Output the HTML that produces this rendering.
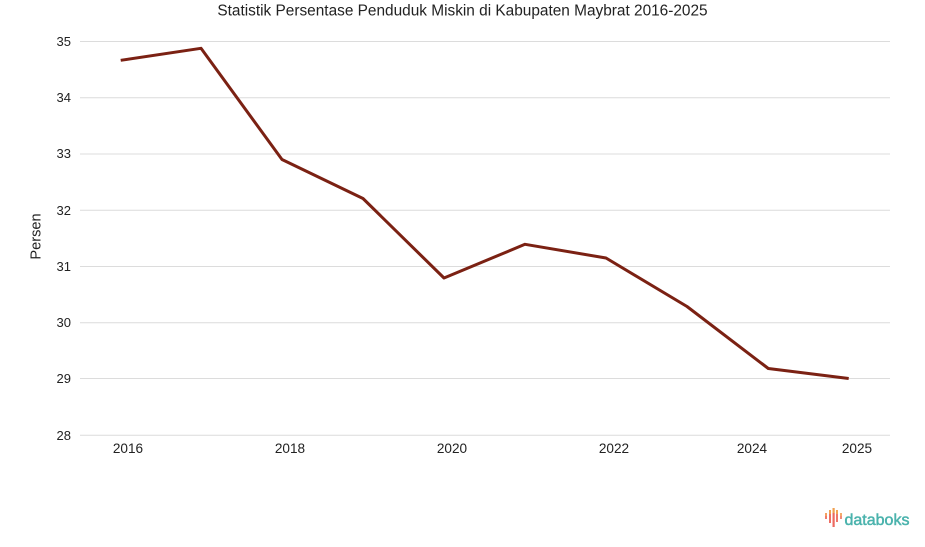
<!DOCTYPE html>
<html><head><meta charset="utf-8"><style>
html,body{margin:0;padding:0;background:#fff;}
svg{display:block;}
text{font-family:"Liberation Sans",Arial,sans-serif;fill:#222;}
</style></head><body>
<svg width="925" height="547" viewBox="0 0 925 547" xmlns="http://www.w3.org/2000/svg">
<text x="462.5" y="15.5" font-size="15.4" text-anchor="middle" fill="#111">Statistik Persentase Penduduk Miskin di Kabupaten Maybrat 2016-2025</text>
<g stroke="#dcdcdc" stroke-width="1">
<line x1="80" x2="890" y1="41.5" y2="41.5"/>
<line x1="80" x2="890" y1="97.8" y2="97.8"/>
<line x1="80" x2="890" y1="154" y2="154"/>
<line x1="80" x2="890" y1="210.3" y2="210.3"/>
<line x1="80" x2="890" y1="266.5" y2="266.5"/>
<line x1="80" x2="890" y1="322.8" y2="322.8"/>
<line x1="80" x2="890" y1="378.5" y2="378.5"/>
<line x1="80" x2="890" y1="435.3" y2="435.3"/>
</g>
<g font-size="13" text-anchor="end">
<text x="71" y="46">35</text>
<text x="71" y="102">34</text>
<text x="71" y="158">33</text>
<text x="71" y="215">32</text>
<text x="71" y="271">31</text>
<text x="71" y="327">30</text>
<text x="71" y="383">29</text>
<text x="71" y="440">28</text>
</g>
<g font-size="13.6" text-anchor="middle">
<text x="128" y="453">2016</text>
<text x="290" y="453">2018</text>
<text x="452" y="453">2020</text>
<text x="614" y="453">2022</text>
<text x="752" y="453">2024</text>
<text x="857" y="453">2025</text>
</g>
<text transform="translate(40.5,236.5) rotate(-90)" font-size="14.6" text-anchor="middle">Persen</text>
<polyline fill="none" stroke="#7b2113" stroke-width="3" stroke-linejoin="round" points="120.7,60.3 201,48.3 282,159.5 363,198.5 444,278 525,244.3 606,258 687,306.5 768.3,368.5 848.7,378.5"/>
<g>
<rect x="825" y="513" width="2" height="3" fill="#f5a060"/>
<rect x="825" y="516" width="2" height="3" fill="#ef7a6a"/>
<rect x="829" y="510" width="2" height="4" fill="#f0a050"/>
<rect x="829" y="514" width="2" height="9" fill="#ee6e64"/>
<rect x="832.5" y="508" width="2.2" height="5" fill="#f0a050"/>
<rect x="832.5" y="513" width="2.2" height="14" fill="#ec6a60"/>
<rect x="836" y="510" width="2" height="4" fill="#f3a355"/>
<rect x="836" y="514" width="2" height="8" fill="#ee766a"/>
<rect x="840" y="513" width="2" height="3" fill="#f5aa6a"/>
<rect x="840" y="516" width="2" height="3" fill="#f08a7a"/>
</g>
<text x="844.5" y="525" font-size="16" fill="#4bb3ad" stroke="#4bb3ad" stroke-width="0.5" style="fill:#4bb3ad">databoks</text>
</svg>
</body></html>
